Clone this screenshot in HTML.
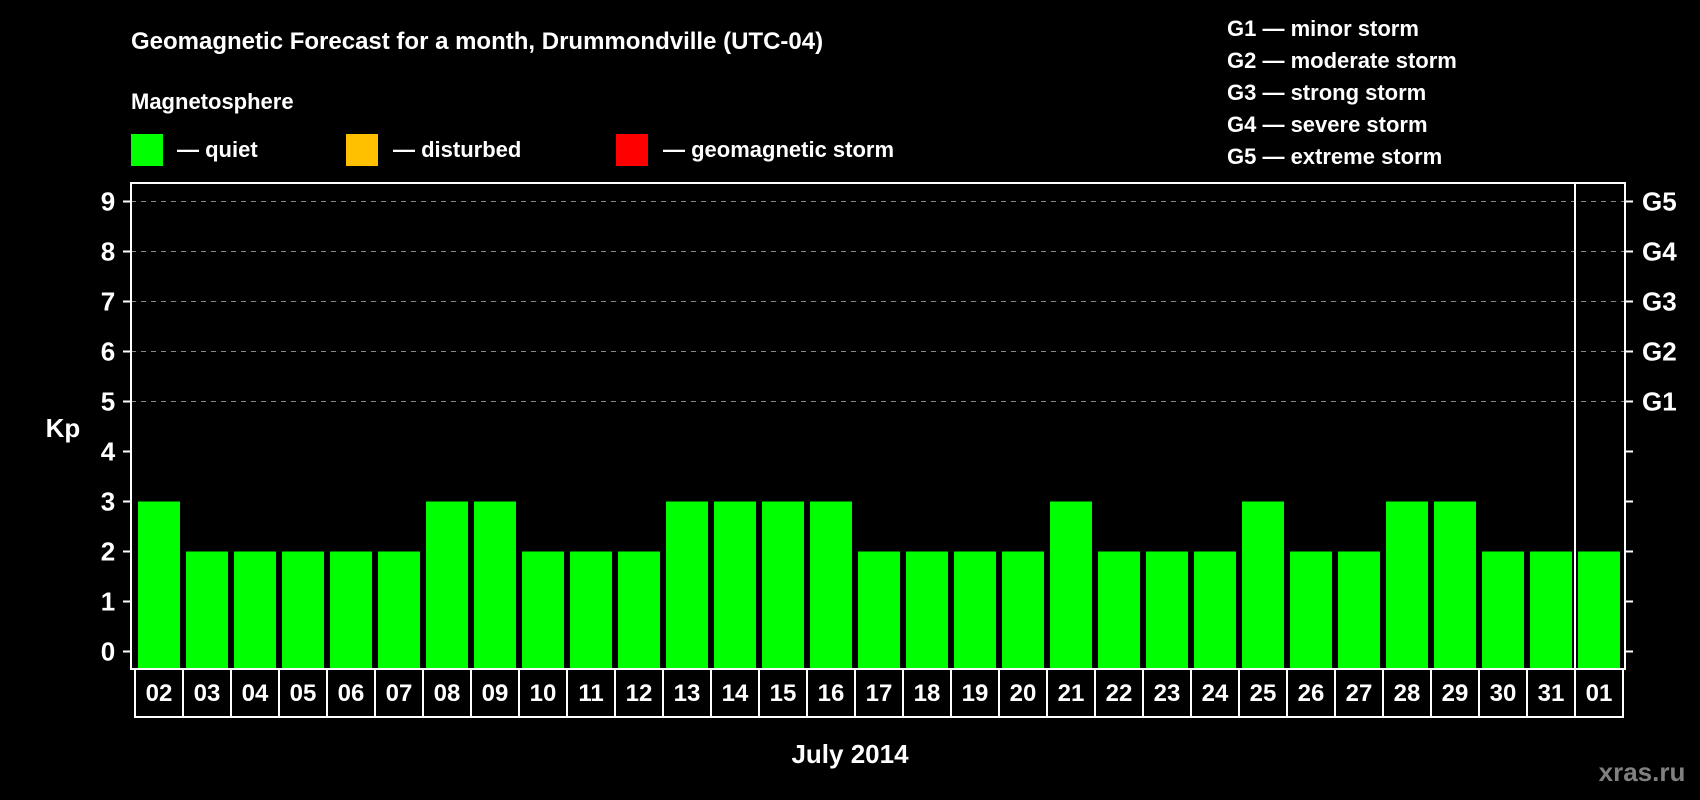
<!DOCTYPE html>
<html><head><meta charset="utf-8"><style>
body{margin:0;background:#000;width:1700px;height:800px;overflow:hidden}
svg{display:block;font-family:"Liberation Sans",sans-serif;font-weight:bold}
</style></head><body>
<svg id="c" width="1700" height="800" xmlns="http://www.w3.org/2000/svg">
<text x="131" y="49" fill="#fff" font-size="24">Geomagnetic Forecast for a month, Drummondville (UTC-04)</text>
<text x="131" y="109" fill="#fff" font-size="22">Magnetosphere</text>
<rect x="131" y="134" width="32" height="32" fill="#00ff00"/>
<text x="177" y="157" fill="#fff" font-size="22">— quiet</text>
<rect x="346" y="134" width="32" height="32" fill="#ffc000"/>
<text x="393" y="157" fill="#fff" font-size="22">— disturbed</text>
<rect x="616" y="134" width="32" height="32" fill="#ff0000"/>
<text x="663" y="157" fill="#fff" font-size="22">— geomagnetic storm</text>
<g fill="#fff" font-size="22">
<text x="1227" y="36">G1 — minor storm</text>
<text x="1227" y="68">G2 — moderate storm</text>
<text x="1227" y="100">G3 — strong storm</text>
<text x="1227" y="132">G4 — severe storm</text>
<text x="1227" y="164">G5 — extreme storm</text>
</g>
<text x="63" y="437" fill="#fff" font-size="26" text-anchor="middle">Kp</text>
<text x="850" y="763" fill="#fff" font-size="26" text-anchor="middle">July 2014</text>
<text x="1642" y="781" fill="#808080" font-size="26" text-anchor="middle">xras.ru</text>
<g id="plot"></g>
</svg>
<script>
const days=["02","03","04","05","06","07","08","09","10","11","12","13","14","15","16","17","18","19","20","21","22","23","24","25","26","27","28","29","30","31","01"];
const kp=[3,2,2,2,2,2,3,3,2,2,2,3,3,3,3,2,2,2,2,3,2,2,2,3,2,2,3,3,2,2,2];
const yTicks=[0,1,2,3,4,5,6,7,8,9];
const gLabels=["G1","G2","G3","G4","G5"];
const gLevels=[5,6,7,8,9];
const NS="http://www.w3.org/2000/svg";
const P=document.getElementById('plot');
const L=131,R=1625,T=183,B=669;
const y=v=>651.5-v*50;
const x=i=>138+i*48;
function mk(t,a){const e=document.createElementNS(NS,t);for(const k in a)e.setAttribute(k,a[k]);P.appendChild(e);return e;}
gLevels.forEach(v=>{const e=mk('line',{x1:L,x2:R,y1:y(v),y2:y(v),stroke:'#888','stroke-dasharray':'5,5','stroke-width':1});

});
kp.forEach((v,i)=>{const e=mk('rect',{x:x(i),y:y(v),width:42,height:B-y(v),fill:v>=5?'#ff0000':v>=4?'#ffc000':'#00ff00'});

});
const fr=mk('rect',{x:L,y:T,width:R-L,height:B-T,fill:'none',stroke:'#fff','stroke-width':2});


const sep=mk('line',{x1:x(days.length-1)-3,x2:x(days.length-1)-3,y1:T,y2:717,stroke:'#fff','stroke-width':2});


yTicks.forEach(v=>{
 const t=mk('line',{x1:L-8,x2:L,y1:y(v),y2:y(v),stroke:'#fff','stroke-width':2});
 
 
 const t2=mk('line',{x1:R,x2:R+8,y1:y(v),y2:y(v),stroke:'#fff','stroke-width':2});
 
 
 const l=mk('text',{x:108,y:y(v)+9,fill:'#fff','font-size':26,'text-anchor':'middle'});l.textContent=v;
 
 
});
gLabels.forEach((g,i)=>{const l=mk('text',{x:1642,y:y(gLevels[i])+9,fill:'#fff','font-size':26});l.textContent=g;
 
 });
days.forEach((d,i)=>{
 const c=mk('rect',{x:x(i)-3,y:B,width:48,height:48,fill:'none',stroke:'#fff','stroke-width':2});
 
 
 const l=mk('text',{x:x(i)+21,y:B+32,fill:'#fff','font-size':24,'text-anchor':'middle'});l.textContent=d;
 
 
});
</script>
</body></html>
